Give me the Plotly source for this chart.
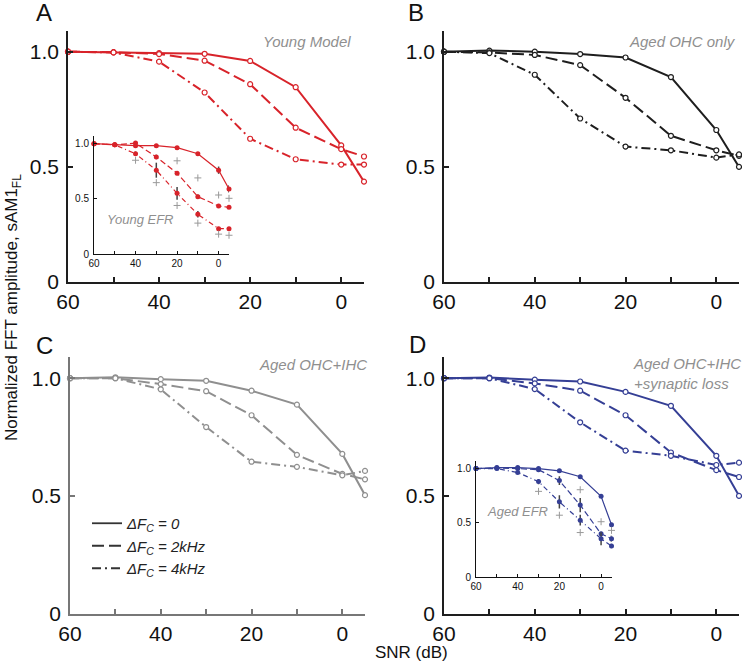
import plotly.graph_objects as go

snr = [60, 50, 40, 30, 20, 10, 0, -5]

# main panels: normalized FFT amplitude for dFc = 0, 2kHz, 4kHz
young_0 = [1.0, 0.997, 0.994, 0.991, 0.96, 0.846, 0.593, 0.436]
young_2 = [1.0, 0.998, 0.99, 0.961, 0.859, 0.67, 0.577, 0.545]
young_4 = [1.0, 0.997, 0.957, 0.823, 0.622, 0.533, 0.51, 0.51]

ohc_0 = [1.0, 1.005, 1.0, 0.99, 0.975, 0.89, 0.66, 0.5]
ohc_2 = [1.0, 0.997, 0.986, 0.942, 0.80, 0.635, 0.572, 0.548]
ohc_4 = [1.0, 0.994, 0.90, 0.71, 0.588, 0.572, 0.54, 0.554]

ohcihc_0 = [1.0, 1.004, 0.996, 0.989, 0.947, 0.888, 0.679, 0.504]
ohcihc_2 = [1.0, 1.0, 0.975, 0.945, 0.843, 0.675, 0.594, 0.571]
ohcihc_4 = [1.0, 1.0, 0.953, 0.793, 0.646, 0.624, 0.588, 0.607]

syn_0 = [1.0, 1.003, 0.994, 0.986, 0.942, 0.883, 0.671, 0.501]
syn_2 = [1.0, 1.0, 0.978, 0.947, 0.843, 0.685, 0.61, 0.581]
syn_4 = [1.0, 1.0, 0.954, 0.813, 0.693, 0.671, 0.632, 0.642]

# insets: measured EFR, mean and error
yefr_0 = [1.0, 0.99, 0.982, 0.982, 0.964, 0.909, 0.76, 0.59]
yefr_2 = [1.0, 0.99, 1.006, 0.88, 0.733, 0.52, 0.435, 0.423]
yefr_4 = [1.0, 0.99, 0.909, 0.76, 0.55, 0.36, 0.23, 0.23]
yefr_0_err = [0, 0.01, 0.01, 0.01, 0.01, 0.015, 0.033, 0.033]
yefr_2_err = [0, 0.01, 0.015, 0.02, 0.02, 0.02, 0.015, 0.015]
yefr_4_err = [0, 0.01, 0.02, 0.068, 0.058, 0.03, 0.015, 0.015]
yefr_sig_x = [40, 30, 20, 20, 10, 10, 0, 0, -5, -5]
yefr_sig_y = [0.85, 0.647, 0.845, 0.44, 0.69, 0.28, 0.535, 0.18, 0.505, 0.17]

aefr_0 = [1.0, 1.009, 1.009, 1.0, 0.979, 0.925, 0.744, 0.482]
aefr_2 = [1.0, 1.005, 1.0, 0.99, 0.889, 0.663, 0.398, 0.353]
aefr_4 = [1.0, 1.0, 0.964, 0.88, 0.693, 0.524, 0.353, 0.286]
aefr_0_err = [0, 0.01, 0.01, 0.01, 0.01, 0.015, 0.015, 0.02]
aefr_2_err = [0, 0.01, 0.01, 0.015, 0.04, 0.066, 0.02, 0.03]
aefr_4_err = [0, 0.01, 0.015, 0.025, 0.06, 0.05, 0.06, 0.02]
aefr_sig_x = [30, 20, 10, 10, 0, -5]
aefr_sig_y = [0.79, 0.57, 0.41, 0.805, 0.51, 0.43]

major_ticks = [60, 40, 20, 0]
minor_ticks = [50, 30, 10, -5]

RED = "#d8232a"
BLACK = "#1e1e1e"
GRAY = "#8f8f8f"
BLUE = "#353f95"

W, H = 742, 672
DASH = "12px,5px"
DASHDOT = "9px,4px,2px,4px"
IDASH = "6px,3px"
IDASHDOT = "5px,3px,1px,3px"

fig = go.Figure()


def add_main(ax, ys, color):
    for y, dash in zip(ys, ["solid", DASH, DASHDOT]):
        fig.add_trace(go.Scatter(
            x=snr, y=y, xaxis="x" + ax, yaxis="y" + ax, mode="lines+markers",
            line=dict(color=color, width=2, dash=dash),
            marker=dict(symbol="circle", size=5, color="white", line=dict(color=color, width=1.2)),
            cliponaxis=False, showlegend=False, hoverinfo="skip"))


def add_inset(ax, ys, errs, sx, sy, color):
    for y, e, dash in zip(ys, errs, ["solid", IDASH, IDASHDOT]):
        fig.add_trace(go.Scatter(
            x=snr, y=y, xaxis="x" + ax, yaxis="y" + ax, mode="lines+markers",
            line=dict(color=color, width=1.2, dash=dash),
            marker=dict(symbol="circle", size=5, color=color),
            error_y=dict(type="data", array=e, color="#444", thickness=1.5, width=0),
            cliponaxis=False, showlegend=False, hoverinfo="skip"))
    fig.add_trace(go.Scatter(
        x=sx, y=sy, xaxis="x" + ax, yaxis="y" + ax, mode="markers",
        marker=dict(symbol="cross-thin", size=5, line=dict(color="#999", width=1)),
        cliponaxis=False, showlegend=False, hoverinfo="skip"))


add_main("", [young_0, young_2, young_4], RED)
add_main("2", [ohc_0, ohc_2, ohc_4], BLACK)
add_main("3", [ohcihc_0, ohcihc_2, ohcihc_4], GRAY)
add_main("4", [syn_0, syn_2, syn_4], BLUE)
add_inset("5", [yefr_0, yefr_2, yefr_4], [yefr_0_err, yefr_2_err, yefr_4_err], yefr_sig_x, yefr_sig_y, RED)
add_inset("6", [aefr_0, aefr_2, aefr_4], [aefr_0_err, aefr_2_err, aefr_4_err], aefr_sig_x, aefr_sig_y, BLUE)

# legend entries
for name, dash in [("<i>ΔF<sub>C</sub> = 0</i>", "solid"),
                   ("<i>ΔF<sub>C</sub> = 2kHz</i>", DASH),
                   ("<i>ΔF<sub>C</sub> = 4kHz</i>", DASHDOT)]:
    fig.add_trace(go.Scatter(x=[None], y=[None], xaxis="x3", yaxis="y3", mode="lines",
                             line=dict(color="#333", width=1.8, dash=dash), name=name))


def px_dom(a, b):
    return [a / W, b / W]


def py_dom(bottom, top):
    return [1 - bottom / H, 1 - top / H]


def axes(xd, yd, lc, lw, tl, fs, ymax, standoff):
    xa = dict(domain=xd, range=[60, -5], showgrid=False, zeroline=False, showline=True,
              linecolor=lc, linewidth=lw, ticks="inside", ticklen=tl, tickcolor=lc, tickwidth=lw,
              tickmode="array", tickvals=major_ticks, tickfont=dict(size=fs, color="#111"),
              minor=dict(tickmode="array", tickvals=minor_ticks, ticks="inside", ticklen=tl,
                         tickcolor=lc, tickwidth=lw, showgrid=False),
              automargin=False)
    ya = dict(domain=yd, range=[0, ymax], showgrid=False, zeroline=False, showline=True,
              linecolor=lc, linewidth=lw, ticks="inside", ticklen=tl, tickcolor=lc, tickwidth=lw,
              tickmode="array", tickvals=[0, 0.5, 1.0], ticktext=["0", "0.5", "1.0"],
              ticklabelstandoff=standoff, tickfont=dict(size=fs, color="#111"), automargin=False)
    return xa, ya


xa1, ya1 = axes(px_dom(68, 364), py_dom(282, 31), BLACK, 1.5, 5, 21, 1.09, 3)
xa2, ya2 = axes(px_dom(444, 739), py_dom(282, 31), BLACK, 1.5, 5, 21, 1.09, 3)
xa3, ya3 = axes(px_dom(70, 365), py_dom(614, 357), "#777", 1.5, 5, 21, 1.09, 3)
xa4, ya4 = axes(px_dom(444, 739), py_dom(614, 357), BLACK, 1.5, 5, 21, 1.09, 3)
xa5, ya5 = axes(px_dom(94, 229), py_dom(254, 136), "#111", 1, 3, 10, 1.07, 2)
xa6, ya6 = axes(px_dom(476, 611.5), py_dom(577, 461), "#111", 1, 3, 10, 1.07, 2)

for i, (xa, ya) in enumerate([(xa1, ya1), (xa2, ya2), (xa3, ya3), (xa4, ya4), (xa5, ya5), (xa6, ya6)]):
    s = "" if i == 0 else str(i + 1)
    xa["anchor"], ya["anchor"] = "y" + s, "x" + s

fig.update_layout(
    width=W, height=H, margin=dict(l=0, r=0, t=0, b=0, autoexpand=False),
    paper_bgcolor="white", plot_bgcolor="white",
    font=dict(family="Liberation Sans, Arial, sans-serif", color="#111"),
    xaxis=xa1, yaxis=ya1, xaxis2=xa2, yaxis2=ya2, xaxis3=xa3, yaxis3=ya3,
    xaxis4=xa4, yaxis4=ya4, xaxis5=xa5, yaxis5=ya5, xaxis6=xa6, yaxis6=ya6,
    showlegend=True,
    legend=dict(x=87 / W, y=1 - 507 / H, xanchor="left", yanchor="top",
                bgcolor="rgba(0,0,0,0)", font=dict(size=15, color="#222"), tracegroupgap=0),
)

anns = [
    dict(text="A", x=44, y=12, size=24, color="#111"),
    dict(text="B", x=416, y=12, size=24, color="#111"),
    dict(text="C", x=44, y=346, size=24, color="#111"),
    dict(text="D", x=417, y=344, size=24, color="#111"),
    dict(text="<i>Young Model</i>", x=353, y=41, size=15, color=GRAY, xanchor="right"),
    dict(text="<i>Aged OHC only</i>", x=738, y=41, size=15, color=GRAY, xanchor="right"),
    dict(text="<i>Aged OHC+IHC</i>", x=369, y=364, size=15, color=GRAY, xanchor="right"),
    dict(text="<i>Aged OHC+IHC<br>+synaptic loss</i>", x=631, y=373, size=15, color=GRAY,
         xanchor="left", align="left"),
    dict(text="<i>Young EFR</i>", x=140, y=219, size=13, color=GRAY),
    dict(text="<i>Aged EFR</i>", x=517, y=511, size=13, color=GRAY),
    dict(text="SNR (dB)", x=411, y=652, size=17, color="#111"),
]
for a in anns:
    fig.add_annotation(text=a["text"], x=a["x"] / W, y=1 - a["y"] / H, xref="paper", yref="paper",
                       showarrow=False, xanchor=a.get("xanchor", "center"), yanchor="middle",
                       align=a.get("align", "center"),
                       font=dict(size=a["size"], color=a["color"]))

fig.add_annotation(text="Normalized FFT amplitude, sAM1<sub>FL</sub>", x=0, y=1 - 308 / H,
                   xref="paper", yref="paper", showarrow=False, textangle=-90, xanchor="left",
                   font=dict(size=17, color="#111"))

fig.write_html("out.html", config={"displayModeBar": False},
               post_script="document.body.style.margin='0px';")
